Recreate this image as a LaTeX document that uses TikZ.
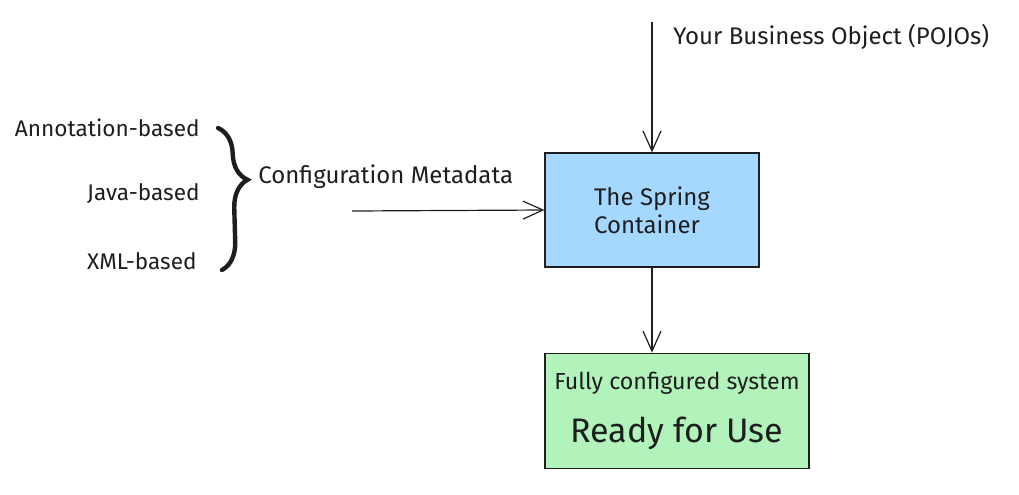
\documentclass[tikz,border=0pt]{standalone}
\usepackage{xcolor}
\usepackage{fontspec}
\setmainfont{Fira Sans}
\usepackage{tikz}
\usetikzlibrary{positioning}
\usetikzlibrary{arrows.meta,decorations.pathreplacing}

\definecolor{inkline}{HTML}{1E1E1E}
\definecolor{springblue}{HTML}{A5D8FF}
\definecolor{readygreen}{HTML}{B2F2BB}

\tikzset{
	sketch/.style={draw=inkline, line width=0.6pt},
	flow/.style={sketch, -{Straight Barb[length=10pt,width=9pt]}},
	txt/.style={font=\fontsize{12}{14}\selectfont, text=inkline, inner sep=0pt},
	srcbox/.style={txt, font=\fontsize{11.3}{13}\selectfont, anchor=east}
}

\begin{document}
\begin{tikzpicture}[x=0.5pt, y=-0.5pt]
		\useasboundingbox (0,0) rectangle (1019,494);
		
		\node[sketch, fill=springblue, minimum width=107pt, minimum height=57pt, txt, align=left] (spring) at (652,210) {The Spring\\Container};
		\node[sketch, fill=readygreen, minimum width=132pt, minimum height=57.5pt, txt, font=\fontsize{11.6}{14}\selectfont, align=center, anchor=north west] (ready) [below = 42.5pt of spring.south west, anchor=north west] {Fully configured system\\[10pt]{\fontsize{17}{20}\selectfont Ready for Use}};
		
		\coordinate (pojo) at (652,22);
		\node[txt, anchor=west] (pojolbl) at (673,37) {Your Business Object (POJOs)};
		
		\node[srcbox] (anno) at (200,128) {Annotation-based};
		\node[srcbox] (java) at (200,194) {Java-based};
		\node[srcbox] (xml) at (197,261) {XML-based};
		\node[txt, anchor=west] (meta) at (258,177) {Configuration Metadata};
		\coordinate (cfg) at (352,211);
		
		\draw[flow] (pojo) -- (spring.north);
		\draw[flow] (cfg) -- (spring.west);
		\draw[flow] (spring.south) -- (spring.south |- ready.north);
		\draw[draw=inkline, line width=2.2pt, line cap=round, decorate, decoration={brace, amplitude=14pt, aspect=0.37}] (218,128) -- (222,270);
	\end{tikzpicture}
\end{document}
